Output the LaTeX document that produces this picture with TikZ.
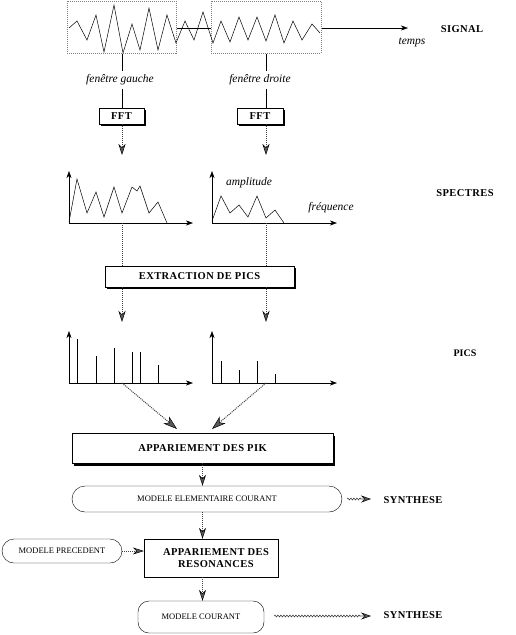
\documentclass[tikz,border=0pt]{standalone}
\usepackage{fontspec}
\setmainfont{Liberation Serif}
\usetikzlibrary{arrows.meta,shadows,decorations.pathmorphing}
\begin{document}
\begin{tikzpicture}[x=1pt,y=-1pt,
  win/.style={draw=gray, densely dotted, line width=1pt, minimum width=#1, minimum height=52pt, inner sep=0pt},
  shbox/.style={draw=black, fill=white, inner sep=0pt, minimum width=#1, drop shadow={shadow xshift=2pt, shadow yshift=-2pt, fill=black, opacity=1}},
  rbox/.style={draw=black, fill=white, inner sep=0pt, rounded corners=12pt, minimum width=#1},
  bfont/.style={font=\bfseries\fontsize{10.5}{12}\selectfont\addfontfeature{LetterSpace=4}},
  sfont/.style={font=\fontsize{8.5}{10}\selectfont},
  ifont/.style={font=\itshape\fontsize{11.5}{13}\selectfont},
  flow/.style={draw=black!75, densely dotted, line width=1pt, -{Stealth[length=11pt,width=7pt,inset=3.5pt,fill=black!65,color=black,line width=0.5pt]}},
  bigflow/.style={draw=black!75, densely dotted, line width=1pt, -{Stealth[length=14pt,width=9pt,inset=4pt,fill=black!65,color=black,line width=0.5pt]}},
  wavy/.style={draw=black!75, line width=0.6pt, decorate, decoration={snake, amplitude=0.9pt, segment length=3pt, post length=10pt}, -{Stealth[length=10pt,width=7pt,inset=3.5pt,fill=black!65,color=black,line width=0.5pt]}},
  axis/.style={draw=black, line width=0.6pt, -{Stealth[length=7pt,width=5pt,inset=2pt]}},
  curve/.style={draw=black, line width=0.5pt}
]
\useasboundingbox (0,0) rectangle (515,635);

% ---------- signal ----------
\node[win=109pt] (winL) at (121.5,27) {};
\node[win=110pt] (winR) at (266,27) {};
\draw[curve] plot coordinates {(69,28) (77,21) (87,40) (96,15) (104,52) (114,5) (123,53) (132,24) (140,50) (149,8) (158,50) (167,15) (176,43) (185,21) (194,40) (203,12) (213,43) (221,21) (230,42) (239,17) (248,40) (257,17) (266,41) (275,15) (284,43) (293,21) (302,40) (312,24) (320,33)};
\coordinate (tEnd) at (408,28);
\draw[curve, line width=0.6pt] (winL.east |- 0,28) -- (winR.west |- 0,28);
\draw[axis] (winR.east |- 0,28) -- (tEnd);
\node[ifont] (temps) at (412,42) {temps};
\node[bfont] (signal) at (462,29) {SIGNAL};

\node[ifont] (labL) at (120,80) {fenêtre gauche};
\node[ifont] (labR) at (260,80) {fenêtre droite};
\node[shbox=45pt, minimum height=16pt, bfont] (fftL) at (121.5,116) {FFT};
\node[shbox=46pt, minimum height=16pt, bfont] (fftR) at (260,116) {FFT};
\coordinate (xL) at (122,0);
\coordinate (xR) at (266,0);
\draw[curve, line width=0.7pt] (winL.south -| xL) -- (labL.north -| xL);
\draw[curve, line width=0.7pt] (labL.south -| xL) -- (fftL.north -| xL);
\draw[curve, line width=0.7pt] (winR.south -| xR) -- (labR.north -| xR);
\draw[curve, line width=0.7pt] (labR.south -| xR) -- (fftR.north -| xR);
\coordinate (fL) at (122,155);
\coordinate (fR) at (266,155);
\draw[flow] (fftL.south -| xL) -- (fL);
\draw[flow] (fftR.south -| xR) -- (fR);

% ---------- spectres ----------
\draw[axis] (69,223) -- (69,171);
\draw[axis] (69,223) -- (193,223);
\draw[curve] plot coordinates {(69,222) (77,179) (87,213) (96,192) (104,217) (114,187) (122,213) (132,187) (137,191) (140,186) (149,213) (158,202) (167,223)};
\draw[axis] (212,223) -- (212,171);
\draw[axis] (212,223) -- (337,223);
\draw[curve] plot coordinates {(212,221) (221,196) (230,213) (239,205) (248,217) (257,196) (266,218) (275,210) (284,223)};
\node[ifont] (ampl) at (249,183) {amplitude};
\node[ifont] (freq) at (331,208) {fréquence};
\node[bfont] (spectres) at (465,193) {SPECTRES};

\node[shbox=189pt, minimum height=21pt, bfont] (ext) at (199.5,276.5) {EXTRACTION DE PICS};
\coordinate (sL) at (122,223);
\coordinate (sR) at (266,223);
\draw[draw=black!75, densely dotted, line width=1pt] (sL) -- (ext.north -| sL);
\draw[draw=black!75, densely dotted, line width=1pt] (sR) -- (ext.north -| sR);
\coordinate (eL) at (122,322);
\coordinate (eR) at (266,322);
\draw[flow] (ext.south -| sL) -- (eL);
\draw[flow] (ext.south -| sR) -- (eR);

% ---------- pics ----------
\draw[axis] (69,383) -- (69,331);
\draw[axis] (69,383) -- (193,383);
\foreach \x/\h in {77/339, 96/356, 114/348, 132/352, 140/352, 158/365}
  \draw[curve, line width=0.6pt] (\x,383) -- (\x,\h);
\draw[axis] (212,383) -- (212,331);
\draw[axis] (212,383) -- (337,383);
\foreach \x/\h in {221/361, 239/370, 257/361, 275/374}
  \draw[curve, line width=0.6pt] (\x,383) -- (\x,\h);
\node[font=\bfseries\fontsize{10}{12}\selectfont] (pics) at (465,353) {PICS};

\node[draw=black, fill=white, inner sep=0pt, minimum width=261pt, minimum height=30pt, bfont,
  drop shadow={shadow xshift=2pt, shadow yshift=-3pt, fill=black, opacity=1}] (pik) at (202.5,448) {APPARIEMENT DES PIK};
\coordinate (pL) at (122,383);
\coordinate (pR) at (266,383);
\coordinate (tL) at (177,429);
\coordinate (tR) at (212,429);
\draw[bigflow] (pL) -- (tL);
\draw[bigflow] (pR) -- (tR);

% ---------- modeles ----------
\node[rbox=270pt, minimum height=26pt, rounded corners=13pt, sfont] (mec) at (207,499) {MODELE ELEMENTAIRE COURANT};
\node[draw=black, fill=white, inner sep=0pt, minimum width=134pt, minimum height=38pt, bfont, align=center] (res) at (211,558) {\hspace*{10pt}APPARIEMENT DES\\\hspace*{10pt}RESONANCES};
\node[rbox=120pt, minimum height=24pt, sfont] (prec) at (62,551) {MODELE PRECEDENT};
\node[rbox=126pt, minimum height=32pt, rounded corners=11pt, sfont] (cour) at (201,617) {MODELE COURANT};
\node[bfont] (syn1) at (413,500) {SYNTHESE};
\node[bfont] (syn2) at (413,615) {SYNTHESE};

\draw[flow] (pik.south) -- (mec.north -| pik.south);
\draw[flow] (mec.south -| pik.south) -- (res.north -| pik.south);
\draw[flow] (res.south -| pik.south) -- (cour.north -| pik.south);
\draw[flow] (prec.east) -- (res.west |- prec.east);
\coordinate (w1) at (347,499);
\coordinate (w1e) at (371,499);
\coordinate (w2) at (274,616);
\coordinate (w2e) at (371,616);
\draw[wavy] (w1) -- (w1e);
\draw[wavy] (w2) -- (w2e);
\end{tikzpicture}
\end{document}
